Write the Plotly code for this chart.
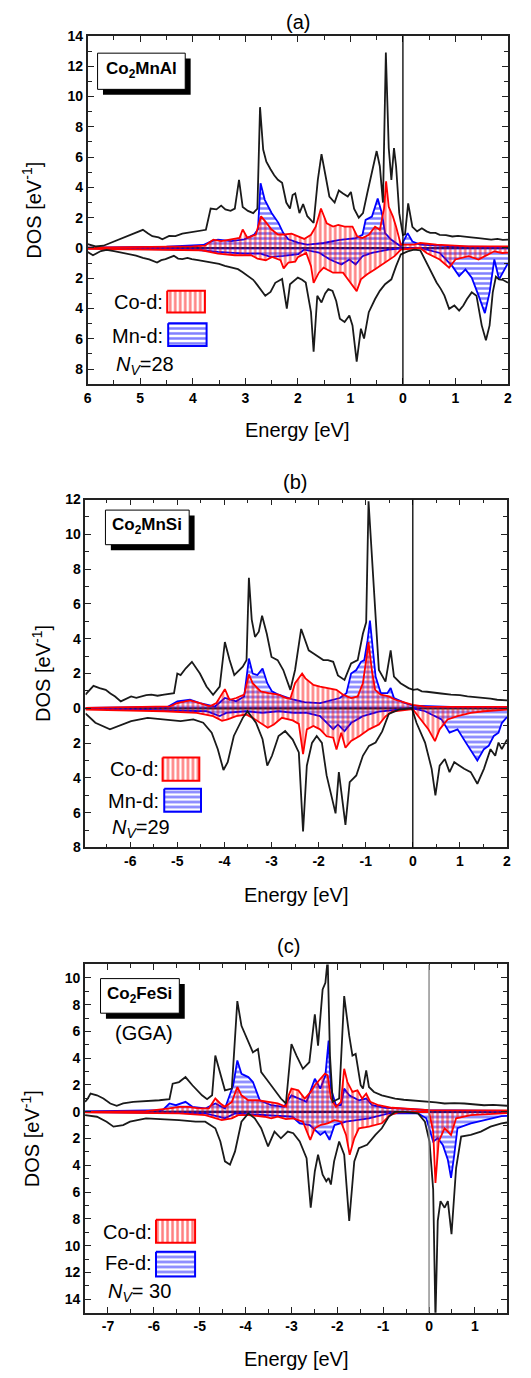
import plotly.graph_objects as go

# ---------------- DATA (energy [eV], DOS [1/eV]; spin-down stored negative) ----------------
# Panel (a) Co2MnAl
A_TOT_UP = [(-6.0,0.25),(-5.85,0.1),(-5.7,0.15),(-5.55,0.35),(-5.39,0.57),(-5.2,0.85),(-5.08,1.0),(-4.95,1.2),(-4.85,0.95),(-4.77,0.78),(-4.65,0.7),(-4.58,0.57),(-4.45,0.8),(-4.33,0.78),(-4.2,0.95),(-4.1,1.0),(-3.95,1.05),(-3.85,1.12),(-3.75,1.2),(-3.66,2.6),(-3.55,2.55),(-3.46,2.8),(-3.38,2.55),(-3.28,2.45),(-3.2,2.6),(-3.12,4.5),(-3.05,2.7),(-2.95,2.45),(-2.85,2.3),(-2.77,2.6),(-2.72,9.3),(-2.66,6.5),(-2.6,5.7),(-2.52,5.2),(-2.45,4.8),(-2.38,4.5),(-2.3,4.3),(-2.22,3.0),(-2.15,2.6),(-2.1,3.5),(-2.05,3.6),(-1.97,2.3),(-1.9,2.9),(-1.82,2.1),(-1.7,1.65),(-1.62,4.5),(-1.55,6.2),(-1.48,4.9),(-1.4,3.4),(-1.3,3.0),(-1.22,3.8),(-1.14,3.6),(-1.05,3.4),(-0.99,3.7),(-0.93,2.6),(-0.84,2.0),(-0.76,2.3),(-0.68,3.6),(-0.59,5.1),(-0.5,6.4),(-0.44,5.4),(-0.38,3.0),(-0.325,12.9),(-0.27,6.6),(-0.22,4.5),(-0.17,6.6),(-0.13,5.4),(-0.07,2.3),(0.0,0.85),(0.04,0.9),(0.1,2.95),(0.18,1.4),(0.27,1.1),(0.36,1.3),(0.45,1.1),(0.52,1.0),(0.62,1.0),(0.7,0.87),(0.82,0.85),(0.94,0.76),(1.05,0.8),(1.19,0.72),(1.3,0.7),(1.44,0.65),(1.55,0.6),(1.68,0.55),(1.8,0.6),(1.9,0.54),(2.0,0.55)]
A_TOT_DN = [(-6.0,-0.26),(-5.9,-0.48),(-5.75,-0.2),(-5.64,-0.12),(-5.5,-0.2),(-5.39,-0.28),(-5.2,-0.4),(-5.08,-0.5),(-4.95,-0.65),(-4.83,-0.75),(-4.68,-0.96),(-4.6,-0.8),(-4.52,-0.74),(-4.36,-0.52),(-4.28,-0.7),(-4.2,-0.74),(-4.1,-0.65),(-4.02,-0.74),(-3.9,-0.8),(-3.83,-0.85),(-3.7,-0.9),(-3.64,-0.96),(-3.5,-1.05),(-3.39,-1.18),(-3.25,-1.3),(-3.14,-1.4),(-3.05,-1.6),(-2.96,-1.85),(-2.85,-2.1),(-2.77,-2.45),(-2.68,-2.9),(-2.62,-3.15),(-2.52,-2.9),(-2.43,-2.3),(-2.3,-2.05),(-2.25,-3.0),(-2.21,-4.0),(-2.15,-2.4),(-2.08,-2.2),(-2.0,-1.96),(-1.92,-2.1),(-1.85,-2.28),(-1.75,-4.24),(-1.7,-6.85),(-1.63,-3.15),(-1.55,-3.6),(-1.48,-3.0),(-1.42,-2.72),(-1.34,-2.83),(-1.27,-3.5),(-1.2,-4.67),(-1.11,-4.89),(-1.02,-4.46),(-0.96,-5.11),(-0.88,-7.5),(-0.8,-5.33),(-0.74,-5.98),(-0.65,-4.24),(-0.53,-3.37),(-0.44,-2.83),(-0.34,-2.39),(-0.22,-2.07),(-0.13,-1.2),(-0.04,-0.43),(0.09,-0.22),(0.21,-0.11),(0.33,-0.15),(0.45,-0.98),(0.55,-1.6),(0.64,-2.28),(0.72,-2.7),(0.79,-3.15),(0.88,-4.02),(0.98,-3.8),(1.07,-4.13),(1.15,-3.8),(1.22,-3.37),(1.31,-2.93),(1.4,-3.15),(1.5,-5.11),(1.58,-6.09),(1.65,-5.11),(1.71,-2.93),(1.77,-1.9),(1.83,-2.07),(1.9,-2.1),(2.0,-2.3)]
A_CO_UP = [(-6.0,0.03),(-5.0,0.05),(-4.0,0.1),(-3.77,0.15),(-3.61,0.55),(-3.46,0.46),(-3.27,0.57),(-3.11,0.67),(-3.05,1.22),(-2.96,0.67),(-2.8,0.89),(-2.7,2.09),(-2.62,1.76),(-2.5,1.22),(-2.38,0.89),(-2.25,0.89),(-2.12,0.95),(-2.0,0.76),(-1.88,0.6),(-1.75,0.87),(-1.66,1.41),(-1.56,2.61),(-1.45,1.63),(-1.33,1.41),(-1.23,1.52),(-1.11,1.41),(-0.96,1.41),(-0.87,0.76),(-0.77,0.65),(-0.65,0.87),(-0.53,1.41),(-0.44,1.2),(-0.36,2.6),(-0.32,4.4),(-0.27,2.72),(-0.19,2.07),(-0.13,1.41),(-0.04,0.22),(0.06,0.22),(0.21,0.22),(0.33,0.33),(0.64,0.22),(1.25,0.11),(2.0,0.1)]
A_CO_DN = [(-6.0,-0.05),(-5.0,-0.08),(-4.2,-0.1),(-3.83,-0.15),(-3.52,-0.37),(-3.2,-0.48),(-2.89,-0.48),(-2.77,-0.7),(-2.61,-0.81),(-2.49,-0.59),(-2.33,-0.81),(-2.27,-1.35),(-2.18,-0.96),(-2.05,-0.9),(-2.0,-0.6),(-1.84,-0.33),(-1.75,-1.2),(-1.7,-2.3),(-1.6,-1.63),(-1.51,-1.3),(-1.33,-1.63),(-1.14,-1.63),(-1.02,-2.2),(-0.88,-2.85),(-0.8,-2.07),(-0.68,-1.74),(-0.53,-1.41),(-0.34,-0.98),(-0.16,-0.54),(-0.04,-0.11),(0.33,0.0),(0.45,-0.33),(0.7,-0.76),(0.88,-1.3),(1.0,-0.76),(1.25,-0.54),(1.44,-0.76),(1.56,-0.54),(1.74,-0.22),(1.89,-0.33),(2.0,-0.3)]
A_MN_UP = [(-6.0,0.02),(-4.5,0.08),(-3.8,0.2),(-3.64,0.45),(-3.52,0.55),(-3.27,0.46),(-3.02,0.57),(-2.83,0.89),(-2.76,1.22),(-2.71,4.27),(-2.63,3.18),(-2.5,2.31),(-2.37,1.66),(-2.28,1.0),(-2.18,0.57),(-2.0,0.35),(-1.82,0.22),(-1.51,0.33),(-1.2,0.54),(-0.9,0.65),(-0.77,0.87),(-0.71,1.85),(-0.59,2.07),(-0.48,3.26),(-0.4,2.28),(-0.34,0.98),(-0.22,0.54),(-0.04,0.11),(0.09,0.98),(0.18,0.43),(0.33,0.22),(0.94,0.11),(2.0,0.05)]
A_MN_DN = [(-6.0,-0.02),(-4.0,-0.1),(-3.52,-0.26),(-3.02,-0.37),(-2.71,-0.37),(-2.52,-0.59),(-2.27,-0.52),(-1.99,-0.4),(-1.88,-0.11),(-1.6,-0.3),(-1.39,-0.76),(-1.17,-1.09),(-1.02,-0.76),(-0.9,-1.09),(-0.77,-0.54),(-0.59,-0.33),(-0.28,-0.11),(0.0,-0.02),(0.33,0.0),(0.7,-0.33),(0.94,-1.2),(1.07,-1.85),(1.19,-1.41),(1.31,-1.96),(1.44,-3.15),(1.56,-4.3),(1.65,-2.93),(1.74,-0.76),(1.83,-2.07),(1.9,-1.63),(2.0,-1.0)]

# Panel (b) Co2MnSi
B_TOT_UP = [(-6.95,0.78),(-6.85,1.1),(-6.78,1.29),(-6.65,1.16),(-6.52,1.06),(-6.42,0.85),(-6.32,0.68),(-6.2,0.4),(-6.08,0.55),(-5.98,0.68),(-5.87,0.6),(-5.77,0.68),(-5.66,0.75),(-5.55,0.78),(-5.42,0.72),(-5.28,0.78),(-5.17,0.82),(-5.07,0.87),(-5.0,2.0),(-4.93,1.91),(-4.82,2.3),(-4.69,2.67),(-4.52,2.0),(-4.38,1.25),(-4.24,0.78),(-4.1,1.25),(-3.99,3.81),(-3.89,2.77),(-3.79,1.91),(-3.61,2.39),(-3.53,2.77),(-3.48,7.5),(-3.42,5.1),(-3.35,4.1),(-3.27,4.4),(-3.2,5.32),(-3.1,4.28),(-3.0,2.95),(-2.87,2.77),(-2.75,2.2),(-2.6,1.06),(-2.5,2.2),(-2.37,4.56),(-2.21,3.33),(-2.1,3.14),(-2.0,2.95),(-1.9,2.77),(-1.8,2.77),(-1.69,2.67),(-1.59,1.89),(-1.45,1.63),(-1.31,2.58),(-1.17,2.77),(-1.06,4.28),(-0.99,4.94),(-0.94,11.9),(-0.87,8.64),(-0.8,5.51),(-0.72,2.2),(-0.58,1.53),(-0.47,3.33),(-0.4,1.82),(-0.26,1.44),(-0.09,1.16),(0.01,1.06),(0.1,1.1),(0.19,0.97),(0.3,0.95),(0.47,0.87),(0.6,0.85),(0.81,0.78),(1.0,0.75),(1.16,0.68),(1.3,0.65),(1.51,0.59),(1.65,0.55),(1.79,0.49),(2.0,0.45)]
B_TOT_DN = [(-6.95,-0.3),(-6.74,-0.83),(-6.43,-1.21),(-6.26,-1.02),(-5.98,-0.74),(-5.63,-0.55),(-5.28,-0.64),(-4.93,-0.74),(-4.66,-0.64),(-4.45,-0.83),(-4.27,-1.4),(-4.14,-2.35),(-4.02,-3.55),(-3.93,-3.1),(-3.8,-1.59),(-3.61,-0.55),(-3.51,-0.17),(-3.33,-0.83),(-3.19,-1.78),(-3.09,-3.3),(-2.99,-2.73),(-2.85,-1.59),(-2.71,-1.31),(-2.55,-1.8),(-2.42,-2.54),(-2.33,-7.08),(-2.25,-3.3),(-2.14,-1.99),(-2.04,-1.59),(-1.93,-1.99),(-1.83,-3.86),(-1.73,-5.0),(-1.64,-6.04),(-1.57,-3.67),(-1.5,-5.38),(-1.43,-6.7),(-1.34,-4.24),(-1.2,-3.86),(-1.06,-2.73),(-0.93,-2.16),(-0.79,-1.97),(-0.65,-1.33),(-0.51,-0.32),(-0.3,-0.08),(-0.02,0.0),(0.08,-0.85),(0.26,-1.97),(0.4,-3.48),(0.48,-5.0),(0.57,-3.3),(0.68,-2.92),(0.78,-3.67),(0.88,-3.1),(1.09,-3.48),(1.23,-3.67),(1.37,-4.34),(1.51,-3.48),(1.65,-2.35),(1.75,-2.73),(1.82,-1.97),(1.89,-2.35),(2.0,-1.8)]
B_CO_UP = [(-6.95,0.02),(-5.98,0.08),(-5.15,0.11),(-5.0,0.3),(-4.73,0.45),(-4.52,0.3),(-4.31,0.11),(-4.17,0.3),(-3.99,1.1),(-3.89,0.49),(-3.75,0.59),(-3.58,0.78),(-3.48,1.95),(-3.4,1.44),(-3.23,0.97),(-3.06,0.87),(-2.85,0.78),(-2.7,0.6),(-2.6,0.55),(-2.5,1.44),(-2.35,2.0),(-2.28,1.72),(-2.11,1.34),(-1.97,1.25),(-1.76,1.16),(-1.62,1.06),(-1.48,0.78),(-1.31,0.59),(-1.17,0.68),(-1.06,1.44),(-1.0,2.58),(-0.94,3.81),(-0.87,2.2),(-0.8,1.06),(-0.68,0.78),(-0.51,0.68),(-0.37,0.49),(-0.16,0.3),(0.0,0.19),(0.26,0.1),(0.81,0.08),(2.0,0.08)]
B_CO_DN = [(-6.95,-0.08),(-5.28,-0.17),(-4.59,-0.27),(-4.24,-0.45),(-4.05,-0.72),(-3.93,-0.64),(-3.75,-0.45),(-3.54,-0.36),(-3.4,-0.55),(-3.23,-0.83),(-3.08,-1.12),(-2.95,-0.93),(-2.78,-0.55),(-2.55,-0.7),(-2.42,-0.9),(-2.33,-2.63),(-2.25,-1.21),(-2.11,-1.02),(-1.97,-1.21),(-1.83,-1.61),(-1.69,-1.69),(-1.62,-2.37),(-1.52,-1.4),(-1.43,-2.27),(-1.31,-1.88),(-1.13,-1.59),(-0.93,-1.21),(-0.72,-0.93),(-0.58,-0.47),(-0.44,-0.19),(0.0,-0.05),(0.12,-0.47),(0.33,-1.21),(0.47,-1.89),(0.57,-1.21),(0.74,-0.64),(0.95,-0.45),(1.23,-0.27),(1.51,-0.17),(2.0,-0.08)]
B_MN_UP = [(-6.95,0.02),(-5.2,0.08),(-5.0,0.4),(-4.73,0.49),(-4.52,0.3),(-4.2,0.1),(-3.99,0.59),(-3.75,0.4),(-3.58,0.68),(-3.48,2.86),(-3.4,2.0),(-3.3,1.91),(-3.19,2.29),(-3.09,1.44),(-2.99,0.97),(-2.85,0.78),(-2.53,0.49),(-2.3,0.35),(-1.97,0.3),(-1.55,0.59),(-1.41,0.87),(-1.31,2.0),(-1.2,2.2),(-1.1,2.67),(-1.03,2.77),(-0.96,3.9),(-0.91,5.04),(-0.86,3.52),(-0.79,1.82),(-0.68,0.87),(-0.54,0.87),(-0.47,1.16),(-0.4,0.59),(-0.16,0.3),(0.0,0.15),(0.8,0.08),(2.0,0.07)]
B_MN_DN = [(-6.95,-0.02),(-4.38,-0.17),(-4.1,-0.45),(-3.96,-0.27),(-3.54,-0.17),(-3.19,-0.27),(-2.85,-0.17),(-2.53,-0.27),(-2.25,-0.27),(-1.97,-0.45),(-1.83,-0.83),(-1.69,-1.21),(-1.59,-0.93),(-1.45,-1.31),(-1.31,-0.85),(-1.06,-0.45),(-0.72,-0.19),(0.0,0.0),(0.26,-0.17),(0.61,-0.64),(0.78,-1.4),(0.95,-1.21),(1.13,-1.99),(1.27,-2.54),(1.37,-3.0),(1.51,-2.35),(1.61,-2.16),(1.72,-1.59),(1.82,-1.4),(1.89,-0.85),(2.0,-0.5)]

# Panel (c) Co2FeSi (GGA)
C_TOT_UP = [(-7.5,0.74),(-7.44,0.99),(-7.38,1.36),(-7.24,1.23),(-7.1,0.99),(-6.95,0.62),(-6.81,0.44),(-6.67,0.62),(-6.45,0.74),(-6.17,0.79),(-5.88,0.86),(-5.66,0.94),(-5.59,2.1),(-5.45,2.22),(-5.31,2.59),(-5.16,1.98),(-4.95,1.23),(-4.84,0.94),(-4.73,1.23),(-4.66,4.2),(-4.55,2.72),(-4.45,1.6),(-4.3,1.73),(-4.18,8.27),(-4.09,6.42),(-3.94,5.19),(-3.84,4.44),(-3.73,4.69),(-3.66,2.96),(-3.55,2.47),(-3.37,1.6),(-3.23,0.99),(-3.12,0.62),(-3.06,2.84),(-3.0,5.06),(-2.89,4.2),(-2.75,3.21),(-2.61,3.7),(-2.49,7.28),(-2.42,4.94),(-2.32,9.14),(-2.26,9.63),(-2.21,11.4),(-2.16,4.2),(-2.1,0.74),(-1.96,0.99),(-1.85,8.64),(-1.74,5.68),(-1.67,4.2),(-1.6,4.32),(-1.49,1.98),(-1.44,1.73),(-1.37,3.09),(-1.31,1.85),(-1.2,1.48),(-1.03,1.23),(-0.9,1.1),(-0.74,0.99),(-0.55,0.9),(-0.38,0.86),(-0.2,0.8),(0.0,0.74),(0.15,0.7),(0.34,0.62),(0.55,0.65),(0.77,0.62),(1.0,0.55),(1.2,0.49),(1.4,0.52),(1.58,0.49),(1.7,0.45)]
C_TOT_DN = [(-7.5,-0.25),(-7.24,-0.37),(-7.03,-0.74),(-6.88,-1.11),(-6.67,-0.99),(-6.52,-0.74),(-6.17,-0.49),(-5.81,-0.54),(-5.45,-0.62),(-5.09,-0.74),(-4.88,-0.74),(-4.66,-1.23),(-4.55,-2.22),(-4.45,-3.7),(-4.34,-3.95),(-4.23,-2.96),(-4.09,-0.74),(-3.94,-0.12),(-3.8,-0.49),(-3.66,-1.23),(-3.51,-2.59),(-3.37,-1.48),(-3.23,-1.98),(-3.08,-1.48),(-2.96,-1.6),(-2.82,-2.22),(-2.67,-3.46),(-2.58,-7.16),(-2.49,-4.44),(-2.42,-3.21),(-2.32,-4.69),(-2.24,-5.19),(-2.19,-4.94),(-2.14,-5.43),(-2.07,-3.7),(-1.96,-2.22),(-1.85,-3.21),(-1.74,-8.15),(-1.63,-3.7),(-1.53,-2.72),(-1.35,-2.47),(-1.17,-1.73),(-1.03,-1.23),(-0.88,-0.37),(-0.74,0.0),(-0.52,0.0),(-0.24,-0.12),(-0.09,-0.74),(0.01,-2.22),(0.09,-5.8),(0.14,-15.5),(0.19,-8.15),(0.25,-6.67),(0.34,-7.16),(0.41,-6.67),(0.49,-9.14),(0.59,-4.2),(0.7,-1.85),(0.91,-1.73),(1.13,-1.48),(1.34,-1.11),(1.58,-0.86),(1.7,-0.8)]
C_CO_UP = [(-7.5,0.0),(-6.17,0.05),(-5.66,0.25),(-5.45,0.37),(-5.24,0.37),(-5.02,0.25),(-4.8,0.25),(-4.66,0.99),(-4.55,0.62),(-4.45,0.37),(-4.3,0.74),(-4.18,1.85),(-4.09,1.23),(-3.94,0.86),(-3.73,0.86),(-3.51,0.74),(-3.3,0.62),(-3.12,0.37),(-3.06,1.23),(-3.0,1.73),(-2.85,1.6),(-2.71,0.99),(-2.58,1.48),(-2.49,1.98),(-2.37,2.47),(-2.27,2.84),(-2.21,2.72),(-2.14,0.99),(-2.03,0.37),(-1.92,0.74),(-1.85,3.21),(-1.78,2.22),(-1.67,1.48),(-1.56,1.6),(-1.46,0.99),(-1.37,1.36),(-1.28,0.74),(-1.1,0.49),(-0.81,0.3),(-0.38,0.2),(0.0,0.12),(0.84,0.1),(1.7,0.1)]
C_CO_DN = [(-7.5,-0.05),(-5.45,-0.12),(-4.88,-0.25),(-4.66,-0.49),(-4.52,-0.62),(-4.3,-0.49),(-4.16,-0.25),(-3.94,-0.25),(-3.59,-0.37),(-3.44,-0.49),(-3.3,-0.37),(-3.12,-0.55),(-2.96,-0.49),(-2.75,-0.74),(-2.59,-2.1),(-2.49,-1.23),(-2.37,-0.99),(-2.21,-0.86),(-2.06,-0.62),(-1.92,-0.74),(-1.81,-1.73),(-1.73,-3.21),(-1.63,-1.98),(-1.53,-1.23),(-1.31,-1.11),(-1.03,-0.86),(-0.85,-0.25),(-0.67,-0.05),(0.0,0.0),(0.09,-1.48),(0.14,-5.31),(0.21,-2.22),(0.34,-1.23),(0.48,-1.73),(0.59,-0.49),(0.91,-0.25),(1.58,-0.12),(1.7,-0.1)]
C_FE_UP = [(-7.5,0.02),(-5.81,0.12),(-5.66,0.62),(-5.52,0.49),(-5.31,0.74),(-5.16,0.37),(-4.88,0.25),(-4.66,0.62),(-4.45,0.25),(-4.27,1.98),(-4.18,3.83),(-4.09,2.84),(-3.94,2.59),(-3.84,2.22),(-3.69,0.86),(-3.44,0.49),(-3.16,0.37),(-3.1,0.74),(-3.0,1.23),(-2.82,0.99),(-2.67,0.74),(-2.49,2.47),(-2.37,1.73),(-2.26,2.72),(-2.19,5.31),(-2.14,1.73),(-2.03,0.49),(-1.92,0.49),(-1.85,1.73),(-1.74,1.23),(-1.53,0.86),(-1.37,0.99),(-1.24,0.49),(-0.95,0.3),(0.0,0.12),(1.7,0.07)]
C_FE_DN = [(-7.5,-0.02),(-4.88,-0.12),(-4.59,-0.37),(-4.45,-0.49),(-4.23,-0.12),(-3.59,-0.25),(-2.98,-0.37),(-2.82,-0.86),(-2.6,-1.0),(-2.37,-1.73),(-2.27,-1.48),(-2.17,-2.1),(-2.06,-0.99),(-1.81,-0.74),(-1.31,-0.49),(-0.88,-0.12),(-0.24,-0.12),(-0.06,-0.49),(0.09,-2.22),(0.19,-1.98),(0.3,-2.47),(0.41,-3.58),(0.48,-4.94),(0.55,-3.21),(0.62,-1.23),(0.91,-0.86),(1.2,-0.62),(1.58,-0.32),(1.7,-0.3)]

# Tick labels
A_XTICKS = [-6, -5, -4, -3, -2, -1, 0, 1, 2]
A_XTEXT = ["6", "5", "4", "3", "2", "1", "0", "1", "2"]
A_YTICKS = [-8, -6, -4, -2, 0, 2, 4, 6, 8, 10, 12, 14]
B_XTICKS = [-6, -5, -4, -3, -2, -1, 0, 1, 2]
B_YTICKS = [-8, -6, -4, -2, 0, 2, 4, 6, 8, 10, 12]
C_XTICKS = [-7, -6, -5, -4, -3, -2, -1, 0, 1]
C_YTICKS = [-14, -12, -10, -8, -6, -4, -2, 0, 2, 4, 6, 8, 10]

# ---------------- LAYOUT ----------------
W, H = 531, 1378
FONT = "Arial, Liberation Sans, sans-serif"
RED, BLUE = "#ff0000", "#0000ff"


def fx(p):
    return p / W


def fy(p):
    return 1 - p / H


def bold(labels):
    return ["<b>" + str(t) + "</b>" for t in labels]


panels = [
    dict(key="", px=(85, 511.7), py=(28.3, 380.7), xr=(-6, 2), yr=(-9, 14),
         xt=A_XTICKS, xtt=A_XTEXT, yt=A_YTICKS,
         tot=(A_TOT_UP, A_TOT_DN), co=(A_CO_UP, A_CO_DN), tm=(A_MN_UP, A_MN_DN),
         title="(a)", title_xy=(298, 14), xlab_y=427, ylab_x=28,
         comp="Co<sub>2</sub>MnAl", box=(95, 45.7, 184, 82.3),
         leg=dict(co_y=297, tm_y=332, txt_x=163, co_box=(165.7, 286, 204, 308),
                  tm_box=(166.7, 319, 205.7, 342), nv="<i>N</i><sub><i>V</i></sub>=28",
                  nv_xy=(112, 362), tm_name="Mn-d:"),
         fermi="#000000", extra=None),
    dict(key="2", px=(82.7, 510.7), py=(497.3, 849.3), xr=(-6.95, 2), yr=(-8, 12),
         xt=B_XTICKS, xtt=[str(v) for v in B_XTICKS], yt=B_YTICKS,
         tot=(B_TOT_UP, B_TOT_DN), co=(B_CO_UP, B_CO_DN), tm=(B_MN_UP, B_MN_DN),
         title="(b)", title_xy=(295, 480), xlab_y=897, ylab_x=38,
         comp="Co<sub>2</sub>MnSi", box=(103, 508, 188, 543),
         leg=dict(co_y=770, tm_y=802, txt_x=159.3, co_box=(161, 758.3, 198.3, 781.7),
                  tm_box=(162.7, 790, 200, 813.3), nv="<i>N</i><sub><i>V</i></sub>=29",
                  nv_xy=(107.3, 830), tm_name="Mn-d:"),
         fermi="#000000", extra=None),
    dict(key="3", px=(82.3, 510.7), py=(967.7, 1320), xr=(-7.5, 1.7), yr=(-15, 11),
         xt=C_XTICKS, xtt=[str(v) for v in C_XTICKS], yt=C_YTICKS,
         tot=(C_TOT_UP, C_TOT_DN), co=(C_CO_UP, C_CO_DN), tm=(C_FE_UP, C_FE_DN),
         title="(c)", title_xy=(289, 949), xlab_y=1367, ylab_x=27,
         comp="Co<sub>2</sub>FeSi", box=(98, 982, 178, 1017),
         leg=dict(co_y=1238, tm_y=1270, txt_x=152.7, co_box=(154.3, 1226, 194, 1249.3),
                  tm_box=(154.3, 1258.3, 194, 1283.3), nv="<i>N</i><sub><i>V</i></sub>= 30",
                  nv_xy=(103.3, 1300), tm_name="Fe-d:"),
         fermi="#808080", extra=("(GGA)", 142, 1037)),
]

fig = go.Figure()
shapes, annos = [], []
layout = {}
PAT = dict(size=5, solidity=0.5)

for p in panels:
    k = p["key"]
    xa, ya = "x" + k, "y" + k
    x0, x1 = p["px"]
    y0, y1 = p["py"]
    xr, yr = p["xr"], p["yr"]

    def to_data(px_, py_, x0=x0, x1=x1, y0=y0, y1=y1, xr=xr, yr=yr):
        ex = xr[0] + (px_ - x0) / (x1 - x0) * (xr[1] - xr[0])
        dy = yr[1] - (py_ - y0) / (y1 - y0) * (yr[1] - yr[0])
        return ex, dy

    axis_common = dict(showline=True, linecolor="#222", linewidth=1.8, mirror="ticks",
                       ticks="inside", tickcolor="#222", tickwidth=1.4, ticklen=6,
                       showgrid=False, zeroline=False,
                       tickfont=dict(family=FONT, size=14, color="black"))
    layout["xaxis" + k] = dict(axis_common, domain=[fx(x0), fx(x1)], range=list(xr),
                               anchor=ya, tickmode="array", tickvals=p["xt"], ticktext=bold(p["xtt"]),
                               minor=dict(ticks="inside", dtick=0.5, tick0=0, ticklen=4,
                                          tickcolor="#222", tickwidth=1.3))
    layout["yaxis" + k] = dict(axis_common, domain=[fy(y1), fy(y0)], range=list(yr),
                               anchor=xa, tickmode="array", tickvals=p["yt"],
                               ticktext=bold([abs(v) for v in p["yt"]]),
                               minor=dict(ticks="inside", dtick=1, tick0=0, ticklen=4,
                                          tickcolor="#222", tickwidth=1.3))

    # zero line beneath everything
    shapes.append(dict(type="line", xref=xa, yref=ya, x0=xr[0], x1=xr[1], y0=0, y1=0,
                       line=dict(color="#222", width=2.2), layer="below"))

    def fill_trace(pts, color, shape):
        return go.Scatter(x=[q[0] for q in pts], y=[q[1] for q in pts], mode="lines",
                          line=dict(color=color, width=1.8), fill="tozeroy",
                          fillcolor="rgba(0,0,0,0)",
                          fillpattern=dict(shape=shape, fgcolor=color, bgcolor="rgba(0,0,0,0)",
                                           **PAT),
                          xaxis=xa, yaxis=ya, showlegend=False, hoverinfo="skip")

    for pts in p["tm"]:
        fig.add_trace(fill_trace(pts, BLUE, "-"))
    for pts in p["co"]:
        fig.add_trace(fill_trace(pts, RED, "|"))
    for pts in p["tot"]:
        fig.add_trace(go.Scatter(x=[q[0] for q in pts], y=[q[1] for q in pts], mode="lines",
                                 line=dict(color="#1a1a1a", width=1.8),
                                 xaxis=xa, yaxis=ya, showlegend=False, hoverinfo="skip"))

    # Fermi level
    shapes.append(dict(type="line", xref=xa, yref=ya, x0=0, x1=0, y0=yr[0], y1=yr[1],
                       line=dict(color=p["fermi"], width=1.3), layer="above"))

    # legend swatches (hatched rectangles)
    L = p["leg"]
    for (bx0, by0, bx1, by1), color, shape in ((L["co_box"], RED, "|"), (L["tm_box"], BLUE, "-")):
        ex0, dy0 = to_data(bx0, by0)
        ex1, dy1 = to_data(bx1, by1)
        fig.add_trace(go.Scatter(x=[ex0, ex1, ex1, ex0, ex0], y=[dy0, dy0, dy1, dy1, dy0],
                                 mode="lines", line=dict(color=color, width=2), fill="toself",
                                 fillcolor="rgba(0,0,0,0)",
                                 fillpattern=dict(shape=shape, fgcolor=color,
                                                  bgcolor="rgba(0,0,0,0)", **PAT),
                                 xaxis=xa, yaxis=ya, showlegend=False, hoverinfo="skip"))
    annos.append(dict(text="Co-d:", x=fx(L["txt_x"]), y=fy(L["co_y"]), xref="paper", yref="paper",
                      xanchor="right", yanchor="middle", showarrow=False,
                      font=dict(family=FONT, size=20, color="black")))
    annos.append(dict(text=L["tm_name"], x=fx(L["txt_x"]), y=fy(L["tm_y"]), xref="paper",
                      yref="paper", xanchor="right", yanchor="middle", showarrow=False,
                      font=dict(family=FONT, size=20, color="black")))
    annos.append(dict(text=L["nv"], x=fx(L["nv_xy"][0]), y=fy(L["nv_xy"][1]), xref="paper",
                      yref="paper", xanchor="left", yanchor="middle", showarrow=False,
                      font=dict(family=FONT, size=20, color="black")))

    # compound label box with shadow
    bx0, by0, bx1, by1 = p["box"]
    shapes.append(dict(type="rect", xref="paper", yref="paper", x0=fx(bx0 + 5.5), x1=fx(bx1 + 5.5),
                       y0=fy(by0 + 5.5), y1=fy(by1 + 5.5), fillcolor="black",
                       line=dict(width=0), layer="above"))
    shapes.append(dict(type="rect", xref="paper", yref="paper", x0=fx(bx0), x1=fx(bx1),
                       y0=fy(by0), y1=fy(by1), fillcolor="white",
                       line=dict(color="black", width=1), layer="above"))
    annos.append(dict(text="<b>" + p["comp"] + "</b>", x=fx((bx0 + bx1) / 2), y=fy((by0 + by1) / 2 - 1),
                      xref="paper", yref="paper", xanchor="center", yanchor="middle",
                      showarrow=False, font=dict(family=FONT, size=17, color="black")))
    if p["extra"]:
        t, ex, ey = p["extra"]
        annos.append(dict(text=t, x=fx(ex), y=fy(ey), xref="paper", yref="paper",
                          xanchor="center", yanchor="middle", showarrow=False,
                          font=dict(family=FONT, size=20, color="black")))

    # panel title, axis titles
    annos.append(dict(text=p["title"], x=fx(p["title_xy"][0]), y=fy(p["title_xy"][1]),
                      xref="paper", yref="paper", xanchor="center", yanchor="middle",
                      showarrow=False, font=dict(family=FONT, size=20, color="black")))
    annos.append(dict(text="Energy [eV]", x=fx((x0 + x1) / 2), y=fy(p["xlab_y"]),
                      xref="paper", yref="paper", xanchor="center", yanchor="middle",
                      showarrow=False, font=dict(family=FONT, size=20, color="black")))
    annos.append(dict(text="DOS [eV<sup>-1</sup>]", x=fx(p["ylab_x"]), y=fy((y0 + y1) / 2),
                      xref="paper", yref="paper", xanchor="center", yanchor="middle",
                      textangle=-90, showarrow=False,
                      font=dict(family=FONT, size=20, color="black")))

fig.update_layout(width=W, height=H, margin=dict(l=0, r=0, t=0, b=0),
                  paper_bgcolor="white", plot_bgcolor="white",
                  shapes=shapes, annotations=annos, showlegend=False, **layout)

fig.write_html("out.html", config={"displayModeBar": False})
